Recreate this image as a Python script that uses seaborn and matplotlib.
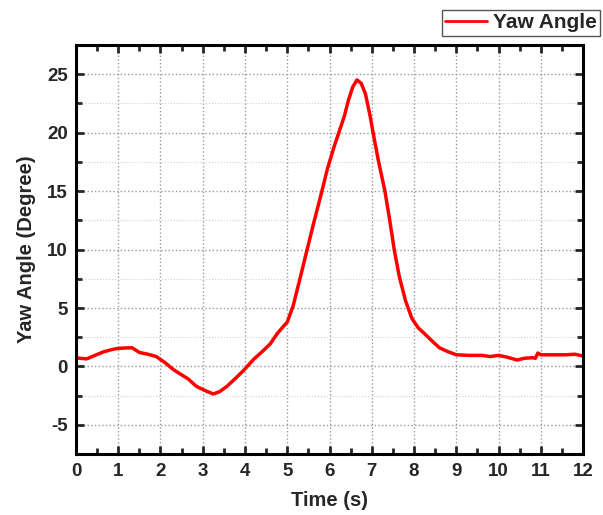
import pandas as pd
import matplotlib.pyplot as plt
import seaborn as sns
from matplotlib.ticker import MultipleLocator

# yaw angle trace
time_s = [0.0, 0.1, 0.25, 0.45, 0.65, 0.85, 1.0, 1.15, 1.33, 1.5, 1.7, 1.9, 2.1,
          2.3, 2.45, 2.65, 2.85, 3.05, 3.25, 3.4, 3.57, 3.75, 3.95, 4.2, 4.43,
          4.6, 4.75, 4.9, 5.0, 5.14, 5.3, 5.47, 5.6, 5.82, 5.95, 6.1, 6.22, 6.35,
          6.45, 6.55, 6.65, 6.75, 6.85, 6.95, 7.03, 7.15, 7.31, 7.42, 7.53, 7.65,
          7.8, 7.95, 8.1, 8.25, 8.45, 8.6, 8.78, 9.0, 9.3, 9.6, 9.8, 10.0, 10.2,
          10.44, 10.6, 10.8, 10.87, 10.93, 11.0, 11.3, 11.6, 11.8, 12.0]
yaw_deg = [0.75, 0.7, 0.65, 0.95, 1.25, 1.45, 1.55, 1.58, 1.6, 1.2, 1.05, 0.85, 0.35,
           -0.25, -0.6, -1.05, -1.7, -2.05, -2.35, -2.15, -1.7, -1.1, -0.4, 0.6, 1.35,
           1.95, 2.75, 3.4, 3.8, 5.2, 7.5, 10.0, 11.9, 15.0, 16.9, 18.7, 20.0, 21.4,
           22.8, 23.9, 24.5, 24.2, 23.3, 21.6, 20.0, 17.7, 15.0, 12.6, 10.0, 7.7,
           5.6, 4.1, 3.3, 2.8, 2.1, 1.6, 1.3, 1.0, 0.95, 0.95, 0.85, 0.95, 0.8,
           0.55, 0.7, 0.75, 0.7, 1.15, 1.0, 1.0, 1.0, 1.05, 0.9]

df = pd.DataFrame({'Time': time_s, 'Yaw': yaw_deg})

sns.set_style('ticks')
plt.rcParams['font.family'] = ['Liberation Sans', 'DejaVu Sans']
plt.rcParams['font.weight'] = 'bold'
plt.rcParams['axes.unicode_minus'] = False

fig = plt.figure(figsize=(6.03, 5.15), dpi=100)
ax = fig.add_axes([0.126, 0.118, 0.841, 0.795])

sns.lineplot(data=df, x='Time', y='Yaw', ax=ax, color='#ff0000', linewidth=2.5,
             label='Yaw Angle', legend=False)

ax.set_xlim(0, 12)
ax.set_ylim(-7.5, 27.5)
ax.xaxis.set_major_locator(MultipleLocator(1))
ax.xaxis.set_minor_locator(MultipleLocator(0.5))
ax.yaxis.set_major_locator(MultipleLocator(5))
ax.yaxis.set_minor_locator(MultipleLocator(2.5))

ax.grid(True, which='major', linestyle=':', color='#999999', linewidth=1.0)
ax.grid(True, which='minor', axis='y', linestyle=':', color='#d0d0d0', linewidth=0.8)

ax.tick_params(which='both', direction='in', top=True, right=True, width=2)
ax.tick_params(which='major', length=6, labelsize=13.5, pad=6)
ax.tick_params(which='minor', length=4)
for lbl in ax.get_xticklabels() + ax.get_yticklabels():
    lbl.set_fontweight('bold')
for sp in ax.spines.values():
    sp.set_linewidth(2.2)
    sp.set_color('black')

ax.set_xlabel('Time (s)', fontsize=14.5, fontweight='bold', labelpad=8)
ax.set_ylabel('Yaw Angle (Degree)', fontsize=14.5, fontweight='bold', labelpad=8)

h, l = ax.get_legend_handles_labels()
leg = fig.legend(h, l, loc='upper right', bbox_to_anchor=(0.999, 0.984),
                 fancybox=False, framealpha=1, edgecolor='#555555',
                 prop={'weight': 'bold', 'size': 15}, handlelength=2.0,
                 borderpad=0.15, handletextpad=0.3, borderaxespad=0.1)
leg.get_frame().set_linewidth(1.0)
leg.get_lines()[0].set_linewidth(2.0)

fig.savefig('out.png', dpi=100)
